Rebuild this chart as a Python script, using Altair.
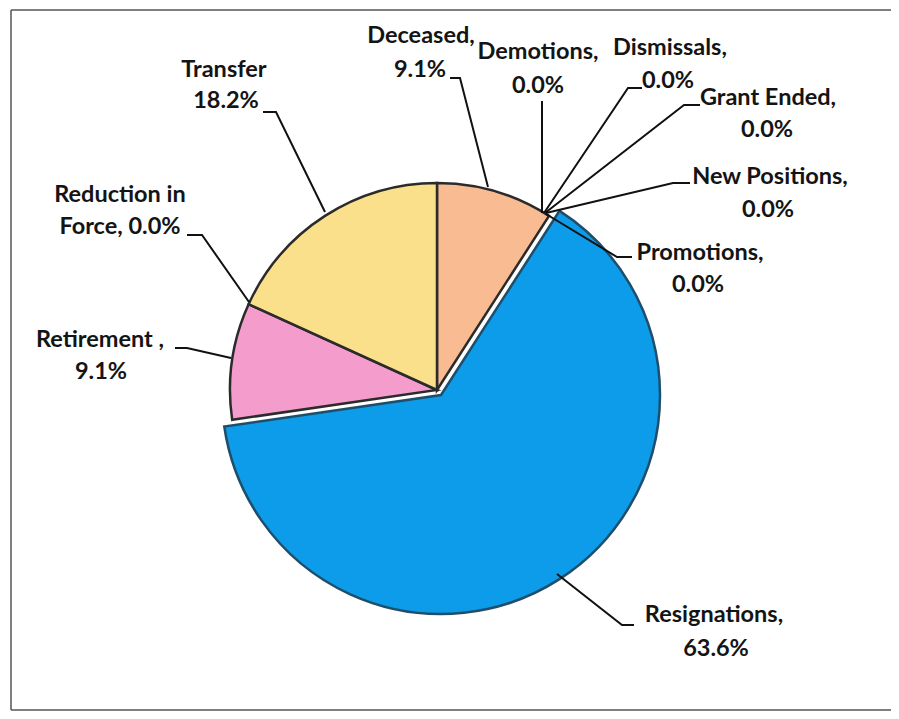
import altair as alt
import pandas as pd

# ---- data ----
categories = ["Deceased", "Demotions", "Dismissals", "Grant Ended", "New Positions",
              "Promotions", "Resignations", "Retirement", "Reduction in Force", "Transfer"]
percent = [9.1, 0.0, 0.0, 0.0, 0.0, 0.0, 63.6, 9.1, 0.0, 18.2]
label_line1 = ["Deceased,", "Demotions,", "Dismissals,", "Grant Ended,", "New Positions,",
               "Promotions,", "Resignations,", "Retirement ,", "Reduction in", "Transfer"]
label_line2 = ["9.1%", "0.0%", "0.0%", "0.0%", "0.0%", "0.0%", "63.6%", "9.1%",
               "Force, 0.0%", "18.2%"]

# ---- styles / layout ----
slice_colors = ["#F9BB91", "#888888", "#888888", "#888888", "#888888",
                "#888888", "#0C9CEA", "#F49CCC", "#888888", "#FBE08C"]
M = 8  # page margin
W, H = 883, 703
CX, CY, R = 437 - M, 390 - M, 207          # main pie centre / radius
BX, BY, BR = 441 - M, 395 - M, 219         # exploded "Resignations" slice

# label text centres (page px): (line1 x, line1 y, line2 x, line2 y)
label_pos = [
    (421, 36, 420, 70),
    (538, 52, 538, 86),
    (670, 48, 668, 81),
    (768, 98, 767, 130),
    (770, 177, 768, 210),
    (700, 253, 698, 285),
    (714, 615, 716, 649),
    (100, 340, 101, 372),
    (120, 195, 120, 227),
    (224, 70, 226, 101),
]
# leader line vertices (page px)
leaders = [
    [(450, 78), (460, 78), (488, 187)],
    [(542, 101), (542, 213)],
    [(642, 88), (628, 88), (544, 213)],
    [(700, 105), (684, 105), (545, 213)],
    [(690, 183), (673, 183), (546, 213)],
    [(546, 214), (617, 257), (632, 257)],
    [(557, 574), (622, 625), (634, 625)],
    [(175, 348), (187, 348), (231, 358)],
    [(187, 235), (202, 235), (249, 302)],
    [(263, 112), (276, 112), (325, 212)],
]

df = pd.DataFrame({"category": categories, "percent": percent,
                   "idx": list(range(len(categories)))})

text_rows = []
for i, c in enumerate(categories):
    x1, y1, x2, y2 = label_pos[i]
    text_rows.append({"text": label_line1[i], "x": x1 - M, "y": y1 - M})
    text_rows.append({"text": label_line2[i], "x": x2 - M, "y": y2 - M})
tdf = pd.DataFrame(text_rows)

lead_rows = []
for i, c in enumerate(categories):
    for j, (x, y) in enumerate(leaders[i]):
        lead_rows.append({"label": c, "seq": j, "x": x - M, "y": y - M})
ldf = pd.DataFrame(lead_rows)

color = alt.Color("category:N", scale=alt.Scale(domain=categories, range=slice_colors),
                  legend=None)
theta = alt.Theta("percent:Q", stack=True)
order = alt.Order("idx:Q")
is_res = "datum.category == 'Resignations'"

base = alt.Chart(df).transform_filter("datum.percent > 0")

pie_main = base.mark_arc(radius=R, stroke="#2b2b2b", strokeWidth=2.5).encode(
    theta=theta, color=color, order=order,
    opacity=alt.condition(is_res, alt.value(0), alt.value(1)),
    x=alt.value(CX), y=alt.value(CY),
)
pie_res = base.mark_arc(radius=BR, stroke="#1f4e6b", strokeWidth=2.5).encode(
    theta=theta, color=color, order=order,
    opacity=alt.condition(is_res, alt.value(1), alt.value(0)),
    x=alt.value(BX), y=alt.value(BY),
)

lines = alt.Chart(ldf).mark_line(color="#111111", strokeWidth=2).encode(
    x=alt.X("x:Q", scale=None), y=alt.Y("y:Q", scale=None),
    detail="label:N", order="seq:Q",
)

texts = alt.Chart(tdf).mark_text(
    font="Lato", fontWeight="bold", fontSize=23.5, color="#141414",
    align="center", baseline="middle",
).encode(x=alt.X("x:Q", scale=None), y=alt.Y("y:Q", scale=None), text="text:N")

bd = alt.Chart(pd.DataFrame({"b": [0]}))
mask_right = bd.mark_rule(color="white", strokeWidth=8).encode(
    x=alt.value(W - 1), y=alt.value(-5), y2=alt.value(H + 5))
border_left = bd.mark_rule(color="#555555", strokeWidth=1.5).encode(
    x=alt.value(3), y=alt.value(2), y2=alt.value(H - 1))
border_top = bd.mark_rule(color="#555555", strokeWidth=1.5).encode(
    x=alt.value(3), x2=alt.value(W + 30), y=alt.value(2))
border_bottom = bd.mark_rule(color="#555555", strokeWidth=1.5).encode(
    x=alt.value(3), x2=alt.value(W + 30), y=alt.value(H - 1))

chart = alt.layer(mask_right, border_left, border_top, border_bottom,
                  pie_res, pie_main, lines, texts).properties(
    width=W, height=H, autosize=alt.AutoSizeParams(type="none"), padding=0,
    background="white",
).configure_view(strokeWidth=0, strokeOpacity=0, fill="white")

chart.save("out.html", embed_options={"renderer": "svg", "actions": False})
